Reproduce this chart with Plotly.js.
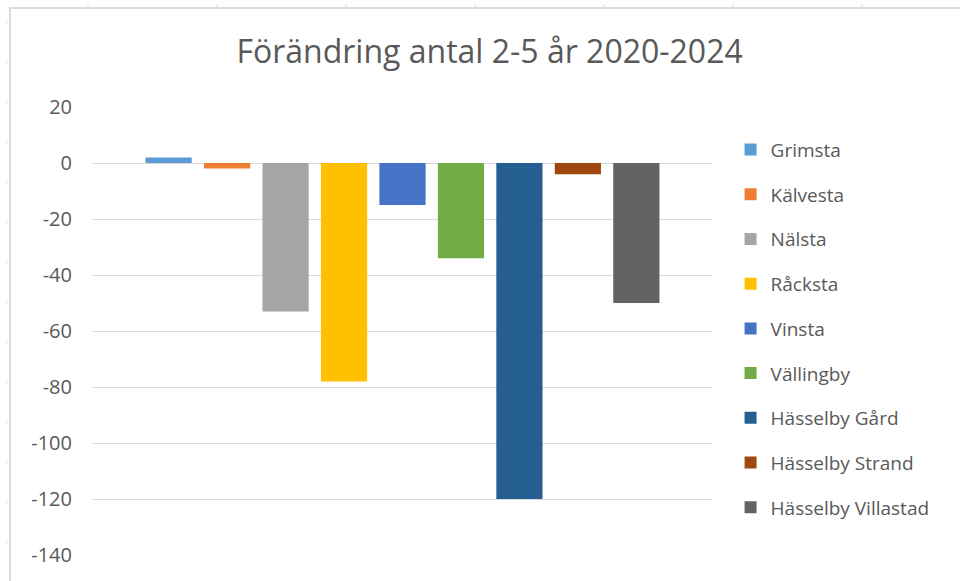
<!DOCTYPE html>
<html>
<head>
<meta charset="utf-8">
<script src="https://cdn.plot.ly/plotly-3.0.1.min.js"></script>
<style>
  html, body { margin: 0; padding: 0; background: #ffffff; }
  #wrap { position: relative; width: 960px; height: 581px; overflow: hidden; }
  #chart { position: absolute; left: 0; top: 0; width: 960px; height: 581px; }
  #frame { position: absolute; left: 0; top: 0; pointer-events: none; }
</style>
</head>
<body>
<div id="wrap">
  <div id="chart"></div>
  <svg id="frame" width="960" height="581"></svg>
</div>
<script>
const categories = ["Grimsta", "Kälvesta", "Nälsta", "Råcksta", "Vinsta", "Vällingby", "Hässelby Gård", "Hässelby Strand", "Hässelby Villastad"];
const values = [2, -2, -53, -78, -15, -34, -120, -4, -50];
const colors = ["#5B9BD5", "#ED7D31", "#A5A5A5", "#FFC000", "#4472C4", "#70AD47", "#255E91", "#9E480E", "#636363"];
const yTicks = [20, 0, -20, -40, -60, -80, -100, -120, -140];
const titleText = "Förändring antal 2-5 år 2020-2024";

const FONT = "'Open Sans', 'Noto Sans', sans-serif";
const TXT = "#595959";

const traces = categories.map((name, i) => ({
  type: "bar",
  name: name,
  x: [""],
  y: [values[i]],
  marker: { color: colors[i] },
  legendgroup: "g" + i,
  hoverinfo: "name+y"
}));

const layout = {
  width: 960,
  height: 581,
  margin: { l: 93, r: 248, t: 107, b: 26 },
  paper_bgcolor: "rgba(0,0,0,0)",
  plot_bgcolor: "rgba(0,0,0,0)",
  font: { family: FONT, color: TXT },
  title: {
    text: titleText,
    font: { family: FONT, size: 32, color: TXT },
    x: 0.51, xanchor: "center",
    y: 0.91, yanchor: "middle"
  },
  barmode: "group",
  bargap: 0.15,
  bargroupgap: 0.21,
  showlegend: true,
  legend: {
    x: 1.03, xanchor: "left",
    y: 0.947, yanchor: "top",
    font: { family: FONT, size: 19, color: TXT },
    tracegroupgap: 17,
    itemwidth: 30,
    traceorder: "grouped",
    bgcolor: "rgba(0,0,0,0)"
  },
  xaxis: {
    showticklabels: false,
    showgrid: false,
    zeroline: false,
    showline: false,
    ticks: ""
  },
  yaxis: {
    range: [-140, 20],
    tickvals: yTicks,
    ticktext: yTicks.map(String),
    tickfont: { family: FONT, size: 20, color: TXT },
    showgrid: true,
    gridcolor: "#d9d9d9",
    gridwidth: 1,
    zeroline: true,
    zerolinecolor: "#d9d9d9",
    zerolinewidth: 1,
    showline: false,
    ticks: "",
    ticklabelstandoff: 20
  }
};

Plotly.newPlot("chart", traces, layout, { displayModeBar: false, staticPlot: true });

// Faint worksheet frame behind the chart (top and left border with tick marks)
(function drawFrame() {
  const svg = document.getElementById("frame");
  const ns = "http://www.w3.org/2000/svg";
  function line(x1, y1, x2, y2, w) {
    const l = document.createElementNS(ns, "line");
    l.setAttribute("x1", x1); l.setAttribute("y1", y1);
    l.setAttribute("x2", x2); l.setAttribute("y2", y2);
    l.setAttribute("stroke", "#dcdcdc");
    l.setAttribute("stroke-width", w);
    svg.appendChild(l);
  }
  line(9, 8, 960, 8, 2);
  line(10, 8, 10, 581, 2);
  for (let x = 88; x < 960; x += 129) line(x, 4, x, 8, 1);
  for (let y = 22; y < 581; y += 40) line(6, y, 10, y, 1);
})();
</script>
</body>
</html>
